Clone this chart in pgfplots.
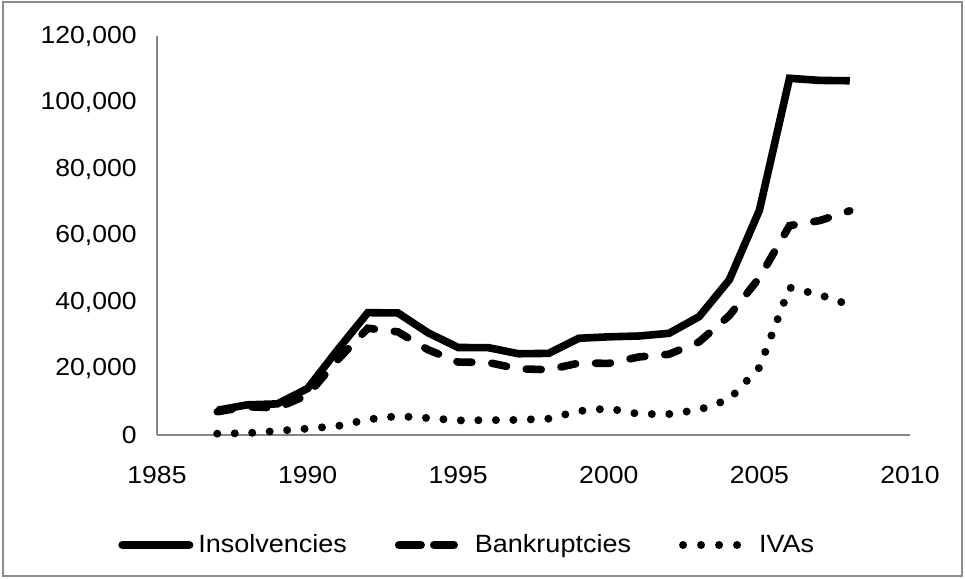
\documentclass[border=0pt]{standalone}
\usepackage{fontspec}
\setmainfont{Liberation Sans}[FakeStretch=1.08]
\usepackage{pgfplots}
\pgfplotsset{compat=1.18}
\definecolor{axisgray}{HTML}{868686}
\definecolor{bordergray}{HTML}{8C8C8C}
\begin{document}
\begin{tikzpicture}
\useasboundingbox (-78.5pt,-72pt) rectangle (404pt,217.5pt);
\draw[bordergray, line width=0.9pt] (-77pt,-70.5pt) rectangle (402.5pt,216.5pt);
\begin{axis}[
  scale only axis,
  width=376.5pt, height=199.5pt,
  xmin=1985, xmax=2010, ymin=0, ymax=120000,
  axis x line*=bottom, axis y line*=left,
  axis line style={axisgray, line width=0.6pt, -},
  major tick length=0pt,
  xtick={1985,1990,1995,2000,2005,2010},
  xticklabels={1985,1990,1995,2000,2005,2010},
  ytick={0,20000,40000,60000,80000,100000,120000},
  yticklabels={0,{20,000},{40,000},{60,000},{80,000},{100,000},{120,000}},
  scaled y ticks=false,
  tick label style={font=\fontsize{12.3}{14}\selectfont, black},
  xticklabel style={anchor=center, inner sep=0pt, yshift=-20pt},
  yticklabel style={anchor=east, inner sep=0pt, xshift=-10pt},
  clip=false,
  legend columns=3,
  legend cell align=left,
  legend style={draw=none, fill=none, inner sep=0pt, at={(-0.0518,-0.2757)}, anchor=west,
    font=\fontsize{12.5}{14}\selectfont, nodes={inner sep=0pt}},
]
\addplot[black, line width=3.8pt, line join=miter,
  legend image code/.code={
    \path[draw=none, fill=none] (0pt,-3pt) rectangle (40pt,3pt);
    \draw[solid, black, line width=4pt, line cap=round] (2pt,0pt) -- (35.5pt,0pt);
  }] coordinates {
(1987,7427) (1988,9071) (1989,9362) (1990,13987) (1991,25640) (1992,36794)
(1993,36703) (1994,30737) (1995,26317) (1996,26271) (1997,24441) (1998,24549)
(1999,29086) (2000,29528) (2001,29775) (2002,30587) (2003,35604) (2004,46650)
(2005,67584) (2006,107288) (2007,106645) (2008,106544)};
\addlegendentry{Insolvencies\hspace*{24pt}\mbox{}}
\addplot[black, line width=3.8pt, line cap=round, dash pattern=on 7.5pt off 10pt,
  legend image code/.code={
    \path[draw=none, fill=none] (0pt,-3pt) rectangle (40pt,3pt);
    \draw[solid, black, line width=4pt, line cap=round] (2pt,0pt) -- (13pt,0pt);
    \draw[solid, black, line width=4pt, line cap=round] (19.5pt,0pt) -- (29.5pt,0pt);
  }] coordinates {
(1987,6994) (1988,8507) (1989,8138) (1990,12058) (1991,22632) (1992,32106)
(1993,31016) (1994,25634) (1995,21933) (1996,21803) (1997,19892) (1998,19647)
(1999,21611) (2000,21550) (2001,23477) (2002,24292) (2003,28021) (2004,35898)
(2005,47291) (2006,62956) (2007,64480) (2008,67428)};
\addlegendentry{Bankruptcies\hspace*{24pt}\mbox{}}
\addplot[black, line width=4pt, line cap=round, dash pattern=on 0pt off 8.75pt,
  legend image code/.code={
    \path[draw=none, fill=none] (0pt,-3pt) rectangle (40pt,3pt);
    \path[draw=none, fill=black] (2pt,0pt) circle (2pt);
    \path[draw=none, fill=black] (11pt,0pt) circle (2pt);
    \path[draw=none, fill=black] (20pt,0pt) circle (2pt);
    \path[draw=none, fill=black] (29pt,0pt) circle (2pt);
  }] coordinates {
(1987,404) (1988,563) (1989,1224) (1990,1927) (1991,2690) (1992,4686)
(1993,5679) (1994,5103) (1995,4384) (1996,4466) (1997,4545) (1998,4902)
(1999,7195) (2000,7978) (2001,6298) (2002,6295) (2003,7583) (2004,10752)
(2005,20293) (2006,44332) (2007,42165) (2008,39116)};
\addlegendentry{IVAs}
\end{axis}
\end{tikzpicture}
\end{document}
